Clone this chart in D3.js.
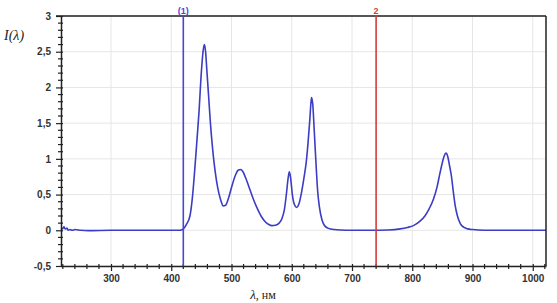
<!DOCTYPE html>
<html>
<head>
<meta charset="utf-8">
<script src="https://cdn.jsdelivr.net/npm/d3@7"></script>
<style>
  body { margin: 0; background: #fff; }
  svg { display: block; }
</style>
</head>
<body>
<div id="chart"></div>
<script>
// Spectrum data (nm, relative intensity)
var wavelength = [217, 219, 221, 222, 223, 225, 227, 229, 232, 236, 240, 250, 262, 300, 350, 400, 412, 417, 420,
  425, 431, 435, 439, 443, 446, 450, 453, 455, 457, 459, 462, 465, 468, 471, 475, 479, 483, 486, 490,
  495, 500, 506, 511, 515, 519, 525, 531, 537, 542, 549, 556, 562, 567, 573, 579, 584, 588, 591, 594,
  596, 598, 601, 604, 608, 612, 616, 620, 624, 627, 630, 632, 633, 635, 637, 639, 641, 643, 646, 650,
  654, 660, 670, 690, 730, 760, 780, 792, 802, 812, 821, 828, 835, 841, 846, 850, 853, 856, 859, 862,
  865, 868, 871, 875, 880, 886, 892, 900, 920, 960, 1022];
var intensity = [0.01, 0.02, 0.04, 0.05, 0.03, 0.02, 0.03, 0.0, 0.01, 0.0, 0.01, 0.0, -0.005, 0.0, 0.0, 0.0, 0.0, 0.005, 0.02,
  0.08, 0.2, 0.45, 0.85, 1.3, 1.65, 2.22, 2.52, 2.6, 2.5, 2.25, 1.88, 1.5, 1.2, 0.95, 0.7, 0.52, 0.4, 0.34, 0.35,
  0.45, 0.6, 0.76, 0.84, 0.85, 0.82, 0.7, 0.56, 0.42, 0.32, 0.2, 0.12, 0.08, 0.065, 0.07, 0.1, 0.17, 0.3, 0.5, 0.73,
  0.82, 0.74, 0.5, 0.37, 0.32, 0.37, 0.52, 0.72, 0.95, 1.22, 1.55, 1.8, 1.86, 1.75, 1.45, 1.13, 0.82, 0.55, 0.32, 0.15,
  0.07, 0.03, 0.01, 0.0, 0.0, 0.005, 0.02, 0.04, 0.065, 0.12, 0.2, 0.3, 0.43, 0.6, 0.8, 0.95, 1.04, 1.08, 1.03, 0.9,
  0.76, 0.55, 0.36, 0.2, 0.09, 0.04, 0.02, 0.01, 0.0, 0.0, 0.0];

// Axis ticks and the two cursors
var xMajor = [300, 400, 500, 600, 700, 800, 900, 1000];
var yMajor = [-0.5, 0, 0.5, 1, 1.5, 2, 2.5, 3];
var cursorPos = [420, 740];
var cursorText = ["(1)", "2"];
var cursorColor = ["#4646d8", "#d43c3c"];

var svgWidth = 557;
var svgHeight = 303;
var margin = { top: 16, right: 11, bottom: 37, left: 61 };
var width = svgWidth - margin.left - margin.right;
var height = svgHeight - margin.top - margin.bottom;

var svg = d3.select("#chart").append("svg")
  .attr("width", svgWidth)
  .attr("height", svgHeight);

var chart = svg.append("g").attr("transform", `translate(${margin.left}, ${margin.top})`);

var x = d3.scaleLinear().domain([217, 1022]).range([0, width]);
var y = d3.scaleLinear().domain([-0.5, 3]).range([height, 0]);

// minor ticks every 20 nm and every 0.1
var xMinor = d3.range(220, 1021, 20).filter(function(d) { return d % 100 != 0; });
var yMinor = d3.range(-5, 31).map(function(d) { return d / 10; }).filter(function(d) { return Math.round(d * 10) % 5 != 0; });

var comma = function(d) { return String(d).replace(".", ","); };

// Grid
chart.append("g")
  .selectAll("line.gx").data(xMajor).enter().append("line")
  .attr("x1", function(d) { return x(d); }).attr("x2", function(d) { return x(d); })
  .attr("y1", 0).attr("y2", height)
  .attr("stroke", "#e6e6e6").attr("stroke-width", 1);
chart.append("g")
  .selectAll("line.gy").data(yMajor).enter().append("line")
  .attr("x1", 0).attr("x2", width)
  .attr("y1", function(d) { return y(d); }).attr("y2", function(d) { return y(d); })
  .attr("stroke", "#e6e6e6").attr("stroke-width", 1);

// Spectrum
var points = wavelength.map(function(d, i) { return [d, intensity[i]]; });
var line = d3.line()
  .x(function(d) { return x(d[0]); })
  .y(function(d) { return y(d[1]); })
  .curve(d3.curveMonotoneX);

chart.append("path")
  .datum(points)
  .attr("fill", "none")
  .attr("stroke", "#3c3cc4")
  .attr("stroke-width", 1.6)
  .attr("stroke-linejoin", "round")
  .attr("d", line);

// Frame
chart.append("line").attr("x1", -5).attr("x2", width).attr("y1", 0).attr("y2", 0)
  .attr("stroke", "#222").attr("stroke-width", 1.5);
chart.append("line").attr("x1", width).attr("x2", width).attr("y1", 0).attr("y2", height)
  .attr("stroke", "#222").attr("stroke-width", 1.5);

// Axes
var tickFont = "Liberation Sans, Arial, sans-serif";

var leftAxis = d3.axisLeft(y).tickValues(yMajor).tickFormat(comma).tickSizeInner(5).tickSizeOuter(0).tickPadding(5);
var gy = chart.append("g").call(leftAxis);
gy.selectAll(".tick line").attr("x1", 2);
gy.append("g").selectAll("line").data(yMinor).enter().append("line")
  .attr("x1", -3).attr("x2", 2)
  .attr("y1", function(d) { return y(d); }).attr("y2", function(d) { return y(d); });

var bottomAxis = d3.axisBottom(x).tickValues(xMajor).tickFormat(d3.format("d")).tickSizeInner(5).tickSizeOuter(0).tickPadding(4);
var gx = chart.append("g").attr("transform", `translate(0, ${height})`).call(bottomAxis);
gx.selectAll(".tick line").attr("y1", -2);
gx.append("g").selectAll("line").data(xMinor).enter().append("line")
  .attr("x1", function(d) { return x(d); }).attr("x2", function(d) { return x(d); })
  .attr("y1", -2).attr("y2", 3);

[gx, gy].forEach(function(g) {
  g.select(".domain").attr("stroke", "#222").attr("stroke-width", 1.5);
  g.selectAll("line").attr("stroke", "#222").attr("stroke-width", 1.2);
  g.selectAll("text")
    .attr("font-family", tickFont)
    .attr("font-size", "10px")
    .attr("font-weight", "bold")
    .attr("fill", "#333");
});

// Cursors
cursorPos.forEach(function(c, i) {
  chart.append("line")
    .attr("x1", x(c)).attr("x2", x(c))
    .attr("y1", -1).attr("y2", height)
    .attr("stroke", cursorColor[i]).attr("stroke-width", 1.6);
  chart.append("text")
    .attr("x", x(c)).attr("y", -2)
    .attr("text-anchor", "middle")
    .attr("font-family", tickFont)
    .attr("font-size", "9px")
    .attr("font-weight", "bold")
    .attr("fill", cursorColor[i])
    .text(cursorText[i]);
});

// Axis titles
svg.append("text")
  .attr("x", 4).attr("y", 40)
  .attr("font-family", "Liberation Serif, serif")
  .attr("font-style", "italic")
  .attr("font-size", "14px")
  .attr("fill", "#222")
  .text("I(λ)");

var xt = svg.append("text")
  .attr("x", 263).attr("y", 299)
  .attr("text-anchor", "middle")
  .attr("font-family", "Liberation Serif, serif")
  .attr("font-size", "12px")
  .attr("fill", "#222");
xt.append("tspan").attr("font-style", "italic").attr("font-size", "13px").text("λ");
xt.append("tspan").text(", нм");
</script>
</body>
</html>
